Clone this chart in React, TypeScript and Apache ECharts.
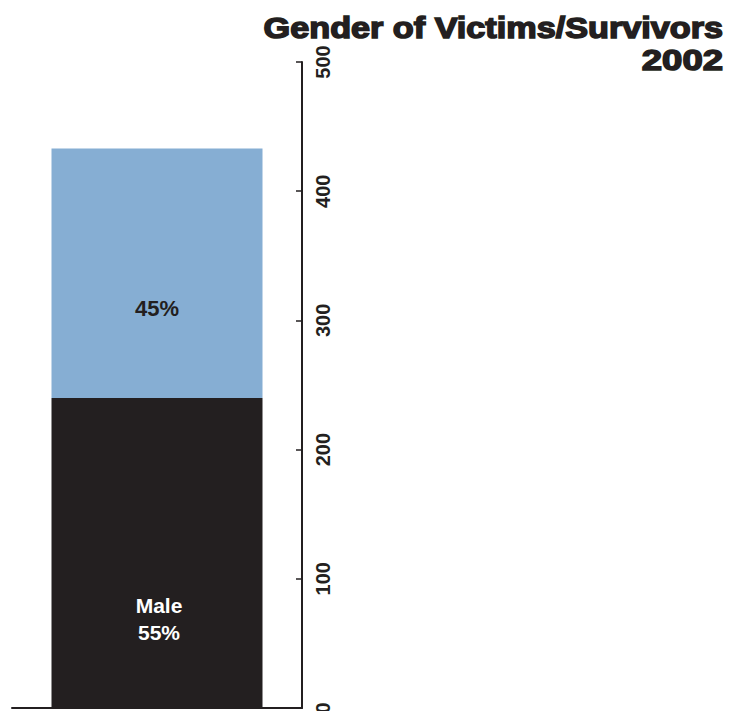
import React, { useEffect, useRef } from "react";
import * as echarts from "echarts";

const categories = ["2002"];
const maleValues = [240];
const femaleValues = [193];
const yTicks = [0, 100, 200, 300, 400, 500];
const titleLine1 = "Gender of Victims/Survivors";
const titleLine2 = "2002";

const FONT = "Liberation Sans, Arial, sans-serif";
const INK = "#231f20";

export default function App() {
  const ref = useRef<HTMLDivElement>(null);
  useEffect(() => {
    if (!ref.current) return;
    const chart = echarts.init(ref.current, null, { renderer: "svg" });
    const total = maleValues[0] + femaleValues[0];
    const pct = (v: number) => Math.round((v / total) * 100) + "%";
    chart.setOption({
      animation: false,
      backgroundColor: "#ffffff",
      graphic: [
        {
          type: "text",
          x: 723,
          y: 28,
          scaleX: 1.18,
          style: {
            text: titleLine1,
            x: 0,
            y: 0,
            align: "right",
            verticalAlign: "middle",
            font: `bold 29px ${FONT}`,
            fill: INK,
            stroke: INK,
            lineWidth: 1.5,
          },
        },
        {
          type: "text",
          x: 723,
          y: 60,
          scaleX: 1.26,
          style: {
            text: titleLine2,
            x: 0,
            y: 0,
            align: "right",
            verticalAlign: "middle",
            font: `bold 29px ${FONT}`,
            fill: INK,
            stroke: INK,
            lineWidth: 1.5,
          },
        },
      ],
      grid: {
        left: 12,
        right: 432,
        top: 62,
        bottom: 3,
        containLabel: false,
        outerBoundsMode: "none",
      },
      xAxis: {
        type: "category",
        data: categories,
        axisLine: { show: true, lineStyle: { color: INK, width: 2 } },
        axisTick: { show: false },
        axisLabel: { show: false },
      },
      yAxis: {
        type: "value",
        position: "right",
        min: yTicks[0],
        max: yTicks[yTicks.length - 1],
        interval: 100,
        splitLine: { show: false },
        axisLine: { show: true, lineStyle: { color: INK, width: 2 } },
        axisTick: { show: true, inside: true, length: 6, lineStyle: { color: INK, width: 1.5 } },
        axisLabel: {
          rotate: 90,
          margin: 11,
          fontFamily: FONT,
          fontWeight: "bold",
          fontSize: 20,
          color: INK,
        },
      },
      series: [
        {
          name: "Male",
          type: "bar",
          stack: "g",
          data: maleValues,
          barWidth: 211,
          itemStyle: { color: INK },
          label: {
            show: true,
            position: "inside",
            offset: [2, 66],
            formatter: (p: any) => "Male\n" + pct(p.value),
            color: "#ffffff",
            fontFamily: FONT,
            fontWeight: "bold",
            fontSize: 21,
            lineHeight: 27,
          },
        },
        {
          name: "Female",
          type: "bar",
          stack: "g",
          data: femaleValues,
          barWidth: 211,
          itemStyle: { color: "#86aed3" },
          label: {
            show: true,
            position: "inside",
            offset: [0, 35],
            formatter: (p: any) => pct(p.value),
            color: INK,
            fontFamily: FONT,
            fontWeight: "bold",
            fontSize: 22,
          },
        },
      ],
    });
    return () => chart.dispose();
  }, []);
  return (
    <div
      ref={ref}
      style={{ position: "absolute", left: 0, top: 0, width: 734, height: 711 }}
    />
  );
}
